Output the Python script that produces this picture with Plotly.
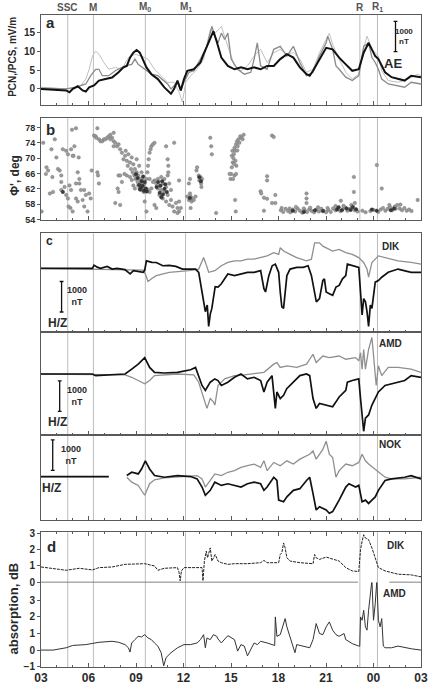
import plotly.graph_objects as go

# ---------------- data (time in hours UT from 03 of day 1, 27 = 03 next day) ----------------
events = ["SSC", "M", "M<sub>0</sub>", "M<sub>1</sub>", "R", "R<sub>1</sub>"]
event_hours = [4.69, 6.31, 9.59, 12.13, 23.14, 24.25]

hour_ticks = [3, 6, 9, 12, 15, 18, 21, 24, 27]
hour_labels = ["03", "06", "09", "12", "15", "18", "21", "00", "03"]

# panel a: AE (black) and PCN / PCS (grey), mV/m
ae = [(3.0, 0), (3.56, -0.2), (4.18, -0.4), (4.59, -0.4), (4.8, -0.9), (5.01, 0), (5.32, 0.7),
      (5.63, -0.4), (5.83, -0.7), (6.04, 0.4), (6.35, 0.9), (6.66, 2.2), (7.07, 2.6), (7.49, 3.0),
      (7.9, 4.4), (8.21, 5.7), (8.42, 6.1), (8.62, 8.3), (8.83, 9.6), (9.04, 10.3), (9.24, 9.6),
      (9.45, 7.4), (9.66, 5.7), (9.97, 3.9), (10.38, 2.6), (10.79, 0.4), (11.0, -0.4), (11.21, -1.3),
      (11.41, 0), (11.62, 2.2), (11.83, -0.4), (12.03, 2.6), (12.24, 4.8), (12.65, 5.2), (12.86, 6.1),
      (13.07, 7.0), (13.27, 9.2), (13.48, 11.3), (13.69, 13.1), (13.89, 15.3), (14.1, 12.5),
      (14.39, 8.3), (14.8, 6.1), (15.22, 5.2), (15.63, 5.7), (16.04, 5.2), (16.46, 5.7), (16.87, 5.2),
      (17.28, 6.1), (17.7, 6.1), (18.11, 7.9), (18.53, 9.2), (18.94, 8.3), (19.35, 5.7), (19.77, 3.9),
      (19.97, 3.5), (20.18, 4.8), (20.59, 7.9), (21.01, 10.9), (21.42, 10.5), (21.83, 8.3),
      (22.25, 6.5), (22.66, 4.8), (23.07, 5.2), (23.38, 9.6), (23.69, 12.2), (23.9, 10.5),
      (24.11, 8.7), (24.31, 7.9), (24.52, 6.1), (24.73, 4.4), (25.14, 3.1), (25.55, 2.6),
      (25.97, 2.2), (26.38, 3.5), (27.0, 3.1)]
pcn = [(3.0, 0.17), (4.59, 0), (5.21, 0.44), (5.83, 1.3), (6.14, 3.5), (6.45, 5.2), (6.66, 5.2),
       (6.87, 3.5), (7.28, 3.5), (7.69, 4.8), (8.31, 6.1), (8.73, 6.5), (8.93, 7.9), (9.14, 6.5),
       (9.55, 5.2), (9.97, 3.9), (10.38, 3.5), (10.79, 2.2), (11.0, 1.3), (11.21, 0), (11.41, 0.87),
       (11.62, 1.75), (11.83, -0.44), (12.03, 1.75), (12.34, 4.36), (12.65, 4.8), (13.07, 7.9),
       (13.48, 11.3), (13.79, 16.6), (13.98, 14.0), (14.18, 12.2), (14.39, 14.8), (14.6, 13.1),
       (14.8, 14.8), (15.01, 7.9), (15.42, 5.2), (15.84, 3.9), (16.25, 4.4), (16.46, 7.9),
       (16.66, 12.2), (16.87, 6.1), (17.28, 5.2), (17.7, 10.5), (18.11, 11.3), (18.53, 8.7),
       (18.94, 11.3), (19.35, 7.0), (19.77, 3.5), (20.18, 4.4), (20.59, 8.7), (21.01, 12.2),
       (21.11, 14.0), (21.42, 10.5), (21.63, 6.1), (21.83, 5.2), (22.25, 3.1), (22.66, 2.2),
       (23.07, 3.5), (23.38, 11.3), (23.69, 12.2), (23.9, 8.3), (24.11, 7.0), (24.31, 5.2),
       (24.52, 2.6), (24.93, 1.3), (25.55, 0.87), (25.97, 0.44), (26.38, 1.75), (27.0, 1.3)]
pcs = [(3.0, 0.44), (4.59, 0), (5.42, 0.44), (5.83, 2.6), (6.04, 5.2), (6.25, 8.7), (6.45, 10.0),
       (6.66, 9.2), (6.97, 7.0), (7.28, 5.2), (7.69, 5.7), (8.11, 5.2), (8.52, 8.3), (8.93, 9.2),
       (9.35, 8.7), (9.76, 7.9), (10.17, 5.2), (10.59, 3.5), (11.0, 1.75), (11.41, 1.75),
       (11.72, -0.87), (11.93, -3.5), (12.14, 1.75), (12.45, 3.5), (12.86, 5.2), (13.27, 7.9),
       (13.69, 15.7), (14.0, 14.8), (14.39, 16.6), (14.8, 11.3), (15.22, 6.1), (15.63, 4.8),
       (16.04, 6.1), (16.46, 8.7), (16.87, 10.5), (17.28, 7.0), (17.7, 9.6), (18.11, 10.5),
       (18.53, 9.2), (18.94, 9.6), (19.35, 7.9), (19.77, 4.4), (20.18, 5.2), (20.59, 9.6),
       (21.01, 13.1), (21.21, 14.8), (21.42, 11.8), (21.83, 7.9), (22.25, 4.4), (22.66, 2.6),
       (23.07, 3.9), (23.38, 10.9), (23.59, 14.0), (23.9, 10.5), (24.31, 8.7), (24.52, 4.8),
       (24.93, 2.2), (25.55, 1.75), (26.17, 2.6), (26.79, 3.9), (27.0, 3.5)]

# panel b: corrected geomagnetic latitude of aurora, deg
phi_grey = [
    (3.04, 56.1), (3.14, 74.0), (3.31, 65.9), (3.35, 67.6), (3.45, 66.8), (3.56, 60.8), (3.66, 72.3),
    (3.76, 61.2), (3.97, 70.2), (3.87, 74.9), (4.07, 67.2), (4.18, 66.8), (4.28, 63.8), (4.38, 72.3),
    (4.49, 62.5), (4.28, 61.7), (4.59, 71.9), (4.7, 71.0), (4.8, 62.9), (4.9, 61.7), (4.86, 57.0),
    (4.74, 57.4), (5.0, 56.1), (5.05, 70.6), (5.11, 73.1), (5.21, 77.8), (4.96, 77.4), (5.32, 66.3),
    (5.42, 63.4), (5.52, 61.7), (5.42, 64.6), (5.21, 63.4), (5.63, 59.1), (5.73, 61.7), (5.73, 57.4),
    (5.83, 60.4), (5.94, 56.1), (6.04, 60.8), (6.14, 59.5), (6.2, 66.8), (5.0, 70.6), (4.9, 72.3),
    (5.21, 59.5), (5.32, 58.7), (5.38, 70.2), (4.59, 60.4), (4.7, 59.5), (3.72, 65.1), (4.28, 65.5),
    (6.35, 75.9), (6.45, 75.7), (6.49, 75.3), (6.56, 77.8), (6.66, 74.9), (6.76, 74.4), (6.87, 74.4),
    (6.97, 74.9), (7.07, 74.9), (7.18, 75.3), (6.56, 66.3), (6.66, 63.4), (6.6, 65.5), (7.28, 75.7),
    (7.38, 76.1), (7.49, 75.3), (7.59, 76.6), (7.38, 74.9), (7.59, 74.4), (7.69, 74.0), (7.59, 73.1),
    (7.8, 73.1), (7.9, 73.6), (8.0, 72.3), (8.11, 71.4), (8.21, 69.7), (8.31, 70.6), (8.35, 71.9),
    (8.42, 69.3), (8.48, 68.0), (8.52, 71.0), (8.62, 68.9), (8.68, 67.2), (8.73, 70.2), (8.79, 66.3),
    (8.83, 68.4), (8.89, 65.5), (8.93, 67.2), (8.97, 64.6), (9.04, 69.7), (9.04, 66.3), (9.1, 63.8),
    (9.14, 65.5), (9.14, 62.9), (9.2, 68.0), (9.24, 64.6), (9.24, 62.1), (9.3, 63.4), (9.35, 66.3),
    (9.35, 61.7), (9.41, 64.6), (9.45, 62.5), (9.49, 61.2), (9.55, 63.4), (9.59, 61.7), (9.66, 64.6),
    (9.66, 62.1), (9.72, 66.3), (9.76, 68.0), (9.8, 69.7), (9.86, 71.4), (9.92, 72.3), (9.97, 73.1),
    (10.07, 73.6), (10.17, 74.0), (9.76, 61.7), (9.86, 61.2), (9.97, 62.1), (8.62, 65.1), (8.73, 64.3),
    (8.83, 62.9), (8.93, 62.1), (8.42, 65.5), (8.27, 65.9), (8.11, 63.8), (7.9, 65.5), (8.0, 65.5),
    (7.84, 62.1), (7.9, 61.2), (8.0, 57.8), (7.69, 58.3), (9.55, 58.7), (9.66, 56.1), (10.9, 73.1),
    (10.17, 64.2), (10.28, 63.4), (10.38, 64.6), (10.38, 62.1), (10.48, 62.9), (10.48, 60.4),
    (10.59, 65.1), (10.59, 61.7), (10.69, 63.4), (10.69, 59.5), (10.79, 64.6), (10.79, 61.2),
    (10.9, 62.5), (10.9, 58.7), (11.0, 65.5), (11.0, 60.4), (11.1, 63.4), (11.1, 57.8), (10.17, 57.8),
    (10.28, 57.0), (10.07, 63.8), (9.86, 64.6), (11.21, 61.7), (11.21, 59.1), (11.31, 57.4),
    (11.41, 56.1), (11.52, 58.3), (11.62, 57.0), (11.72, 58.7), (11.83, 57.0), (11.72, 64.2),
    (11.0, 69.7), (11.04, 68.0), (11.04, 66.3), (11.41, 74.0), (11.72, 56.1), (11.62, 55.7),
    (12.24, 60.0), (12.34, 59.1), (12.41, 60.8), (12.45, 60.0), (12.51, 58.7), (12.55, 59.5),
    (12.34, 63.4), (12.41, 64.6), (12.45, 57.0), (12.65, 59.1), (12.76, 60.0), (12.82, 66.8),
    (12.86, 67.6), (12.96, 65.5), (13.0, 64.2), (13.07, 65.1), (13.11, 63.4), (13.17, 64.6),
    (13.13, 62.5), (14.06, 55.7), (13.69, 75.3), (13.75, 73.1), (13.79, 71.0),
    (14.97, 64.6), (15.01, 65.9), (15.05, 67.6), (15.05, 70.6), (15.09, 71.9), (15.11, 68.9),
    (15.13, 64.6), (15.18, 71.0), (15.22, 72.7), (15.22, 65.5), (15.26, 71.9), (15.28, 69.3),
    (15.32, 73.6), (15.34, 68.0), (15.38, 74.4), (15.42, 73.1), (15.47, 74.9), (15.53, 74.0),
    (15.59, 75.7), (15.67, 75.3), (15.8, 76.1), (15.73, 74.9), (15.26, 59.1), (15.3, 56.1),
    (14.91, 65.9), (15.32, 65.9), (15.15, 70.0), (15.2, 68.5), (15.4, 72.0),
    (17.59, 75.9), (17.7, 75.5), (17.28, 65.3), (17.28, 64.2), (16.87, 61.4), (16.91, 60.8),
    (17.08, 59.7), (17.28, 59.4), (17.59, 58.3), (17.8, 60.4), (17.8, 58.3), (17.08, 56.3),
    (19.77, 60.8), (19.77, 59.5), (19.77, 58.3), (22.76, 65.1), (22.76, 61.2), (21.94, 58.9),
    (22.82, 58.3), (24.21, 68.2), (24.52, 62.1), (26.79, 59.1),
    (18.15, 56.4), (18.3, 56.0), (18.45, 56.8), (18.6, 56.2), (18.75, 55.9), (18.9, 56.6),
    (19.05, 56.1), (19.2, 56.9), (19.35, 56.3), (19.5, 55.8), (19.65, 56.5), (19.8, 56.0),
    (19.95, 56.7), (20.1, 56.2), (20.25, 55.9), (20.4, 56.6), (20.55, 56.1), (20.7, 56.8),
    (20.85, 56.3), (21.0, 55.9), (21.15, 56.5), (21.3, 56.0), (21.45, 56.9), (21.6, 56.4),
    (21.75, 57.1), (21.9, 56.2), (22.05, 56.7), (22.2, 57.2), (22.35, 56.3), (22.5, 56.8),
    (22.65, 57.0), (22.8, 56.4), (23.0, 56.1), (23.3, 56.3), (23.5, 55.9), (23.8, 56.2),
    (24.0, 56.5), (24.3, 56.0), (24.45, 56.6), (24.6, 57.0), (24.75, 56.3), (24.9, 56.8),
    (25.05, 57.2), (25.2, 56.5), (25.35, 57.4), (25.5, 57.8), (25.65, 56.9), (25.8, 56.4),
    (25.95, 57.0), (26.1, 56.3), (26.25, 56.6), (26.4, 56.2),
    (18.2, 57.0), (18.7, 56.9), (19.1, 57.3), (19.6, 56.9), (20.0, 57.1), (20.5, 57.2),
    (21.1, 57.0), (21.6, 57.5), (22.1, 57.6), (22.6, 57.8), (25.0, 57.8), (25.4, 56.8), (25.7, 57.9)]
phi_dark = [
    (9.2, 63.0), (9.3, 62.2), (9.35, 64.0), (9.42, 62.8), (9.5, 61.5), (9.55, 63.8), (9.62, 62.0),
    (9.68, 61.3), (9.1, 64.8), (9.0, 65.8), (9.25, 61.8), (9.45, 65.2), (10.3, 62.5), (10.4, 63.8),
    (10.5, 61.0), (10.55, 62.8), (10.65, 64.0), (10.7, 60.5), (10.8, 62.0), (10.85, 63.2),
    (10.95, 61.2), (10.6, 59.8), (4.38, 61.2), (13.0, 65.0), (13.1, 64.0), (12.4, 59.6),
    (21.7, 56.6), (21.8, 57.2), (22.0, 56.4), (22.3, 56.9), (22.55, 56.5), (22.7, 57.3),
    (22.9, 56.7), (23.9, 56.6), (24.2, 56.3), (18.9, 56.3), (19.6, 56.0), (20.3, 56.4),
    (20.8, 56.2), (25.1, 56.4), (25.3, 56.9)]

# panel c: magnetometer H (black) and Z (grey), nT relative to quiet level
dik_h = [(3.0, 0), (6.25, 0), (6.35, 107), (6.55, 40), (6.76, 0), (7.18, 65), (7.49, -22), (7.8, 0),
         (8.3, -40), (8.63, -183), (8.84, -75), (9.45, -129), (9.55, -60), (9.66, 247), (10.0, 200),
         (10.28, 193), (10.69, 86), (11.1, 100), (11.52, 65), (11.93, -22), (12.76, -22),
         (12.96, -129), (13.17, -774), (13.27, -1100), (13.38, -1419), (13.5, -1200), (13.59, -1902),
         (13.69, -1500), (13.79, -1312), (14.0, -600), (14.18, -613), (14.39, -505), (14.8, -183),
         (15.22, -237), (15.63, -183), (16.04, -129), (16.46, -129), (16.87, -75), (17.08, -667),
         (17.18, -774), (17.39, -237), (17.6, 86), (17.8, 140), (18.01, -129), (18.11, -774),
         (18.21, -1258), (18.32, -1312), (18.42, -774), (18.53, -237), (18.73, -22), (19.15, 32),
         (19.56, 32), (19.87, 86), (20.08, -237), (20.28, -774), (20.39, -1097), (20.59, -989),
         (20.8, -398), (20.9, -344), (21.01, -774), (21.21, -828), (21.42, -882), (21.63, -613),
         (21.83, -559), (22.04, -344), (22.25, -237), (22.35, 140), (22.66, 86), (23.07, 32),
         (23.18, -774), (23.28, -1527), (23.38, -989), (23.49, -1097), (23.59, -1419),
         (23.69, -1903), (23.8, -1204), (23.9, -1312), (24.11, -452), (24.31, -398), (24.52, -290),
         (24.93, -129), (25.55, -22), (26.38, -129), (27.0, -129)]
dik_z = [(3.0, 0), (9.45, -60), (9.6, -200), (9.76, -430), (10.0, -330), (10.28, -237), (11.1, -129),
         (12.34, -75), (12.96, -22), (13.1, 150), (13.27, 355), (13.45, 100), (13.59, -129),
         (13.98, -75), (14.39, 86), (14.8, 194), (15.22, 247), (15.63, 247), (16.04, 301),
         (16.46, 301), (16.87, 355), (17.28, 409), (17.7, 516), (18.01, 462), (18.11, 677),
         (18.32, 570), (18.73, 462), (19.15, 355), (19.77, 247), (20.08, 301), (20.28, 839),
         (20.59, 839), (20.8, 731), (21.01, 677), (21.42, 570), (21.83, 624), (22.25, 516),
         (22.66, 462), (23.07, 355), (23.38, 194), (23.59, -22), (23.69, -290), (23.8, -22),
         (23.9, 194), (24.31, 409), (24.73, 355), (25.55, 247), (26.38, 194), (27.0, 140)]
amd_h = [(3.0, 0), (6.25, 0), (6.45, -54), (7.69, -32), (8.31, 0), (8.73, 161), (9.14, 323),
         (9.55, 538), (9.86, 215), (10.17, 54), (10.79, 32), (11.62, 54), (12.45, 140), (12.76, 215),
         (12.96, -54), (13.17, -376), (13.38, -538), (13.69, -269), (13.98, -161), (14.18, -215),
         (14.39, -376), (14.8, -269), (15.22, -108), (15.63, 0), (16.04, -161), (16.46, -108),
         (16.87, -215), (17.08, -591), (17.28, -269), (17.59, -54), (17.8, -1129), (17.9, -591),
         (18.11, -806), (18.32, -699), (18.52, -484), (18.94, -269), (19.35, -54), (19.77, 0),
         (19.97, -54), (20.18, -806), (20.38, -1129), (20.59, -968), (21.01, -1021), (21.42, -1075),
         (21.63, -914), (21.83, -753), (22.25, -538), (22.35, -269), (22.66, -215), (23.07, -161),
         (23.18, -806), (23.28, -1344), (23.38, -1881), (23.49, -1451), (23.69, -1344),
         (23.9, -1021), (24.11, -806), (24.31, -591), (24.73, -376), (25.14, -323), (25.97, -215),
         (26.38, -54), (27.0, -108)]
amd_z = [(3.0, 0), (8.31, -32), (8.73, -108), (9.14, -215), (9.55, -323), (9.86, -215), (10.17, -54),
         (11.62, 0), (12.65, -32), (12.96, -269), (13.27, -806), (13.48, -1129), (13.69, -806),
         (13.89, -914), (13.98, -1021), (14.18, -376), (14.6, -161), (15.22, -54), (15.84, -32),
         (16.46, 0), (17.08, 54), (17.7, 323), (17.9, 376), (18.11, 215), (18.53, 269), (19.15, 215),
         (19.77, 323), (19.97, 484), (20.18, 645), (20.38, 376), (20.8, 591), (21.21, 538),
         (21.83, 591), (22.25, 484), (22.87, 538), (23.07, 430), (23.18, 699), (23.28, 161),
         (23.38, 806), (23.49, 161), (23.69, 806), (23.9, 1200), (24.07, 269), (24.17, -376),
         (24.31, 269), (24.52, -54), (24.93, 215), (25.55, 215), (26.38, 161), (27.0, 54)]
nok_h = [(3.0, 0), (7.28, 0), (7.8, None), (8.42, 32), (8.73, 140), (9.14, 86), (9.35, 247),
         (9.59, 516), (9.86, 247), (10.17, 32), (10.79, -22), (11.62, 32), (12.45, 0), (12.86, -75),
         (13.17, -344), (13.38, -613), (13.69, -452), (13.98, -183), (14.39, -290), (14.8, -237),
         (15.22, -290), (15.63, -344), (16.04, -237), (16.46, -183), (16.87, -237), (17.08, -452),
         (17.28, -344), (17.7, -22), (17.9, -129), (18.01, -774), (18.32, -828), (18.53, -667),
         (18.94, -452), (19.35, -398), (19.77, -129), (19.97, -22), (20.18, -559), (20.38, -1097),
         (20.59, -989), (21.01, -1097), (21.21, -1204), (21.42, -1150), (21.83, -774), (22.25, -344),
         (22.45, -237), (22.87, -344), (23.07, -290), (23.28, -828), (23.49, -774), (23.69, -882),
         (23.9, -774), (24.11, -667), (24.31, -452), (24.73, -129), (25.14, -75), (25.97, -22),
         (26.38, 32), (27.0, -75)]
nok_z = [(3.0, 0), (7.28, 0), (7.8, None), (8.42, -22), (8.73, -183), (9.14, -290), (9.55, -613),
         (9.86, -237), (10.17, -108), (10.79, -43), (12.45, 0), (12.86, 32), (13.17, -75),
         (13.38, -344), (13.69, -129), (13.98, 86), (14.39, 32), (14.8, 140), (15.22, 194),
         (15.63, 301), (16.04, 355), (16.46, 409), (16.87, 301), (17.08, 516), (17.28, 194),
         (17.7, 462), (18.11, 355), (18.53, 516), (18.94, 409), (19.35, 570), (19.97, 731),
         (20.18, 839), (20.38, 570), (20.8, 892), (21.01, 1161), (21.21, 731), (21.42, 624),
         (21.63, -22), (21.83, 194), (22.25, 409), (22.66, 355), (23.07, 462), (23.28, 731),
         (23.49, 516), (23.69, 409), (24.11, 247), (24.31, 140), (24.73, -22), (25.14, -75),
         (25.97, -75), (27.0, -22)]

# panel d: riometer absorption, dB
abs_dik = [(3.0, 0.94), (3.76, 0.84), (4.59, 0.74), (5.42, 0.86), (6.25, 0.76), (6.66, 0.9),
           (7.49, 0.94), (8.31, 1.1), (9.14, 1.1), (9.55, 1.14), (10.17, 1.0), (10.38, 0.74),
           (10.79, 0.86), (11.62, 0.9), (11.72, 0.6), (11.79, 0.1), (11.87, 0.7), (12.03, 0.9),
           (13.17, 0.9), (13.23, 0.1), (13.32, 1.3), (13.44, 1.9), (13.52, 1.5), (13.69, 2.1),
           (13.79, 1.3), (14.0, 1.7), (14.18, 1.3), (14.39, 1.2), (14.8, 1.1), (15.22, 1.14),
           (16.04, 1.14), (16.87, 1.2), (17.08, 1.34), (17.28, 1.2), (18.01, 1.2), (18.11, 1.7),
           (18.21, 1.8), (18.32, 2.4), (18.42, 2.1), (18.53, 1.5), (18.73, 1.3), (19.35, 1.2),
           (20.18, 1.14), (20.28, 1.7), (20.38, 1.5), (20.59, 1.4), (21.01, 1.54), (21.42, 1.4),
           (21.83, 1.3), (22.25, 0.9), (22.66, 0.7), (23.07, 0.66), (23.18, 2.0), (23.28, 2.5),
           (23.38, 2.9), (23.49, 2.7), (23.69, 2.6), (23.9, 2.1), (24.11, 1.5), (24.31, 0.9),
           (24.73, 0.7), (25.14, 0.6), (25.55, 0.5), (26.38, 0.46), (27.0, 0.34)]
abs_amd = [(3.0, 0), (3.76, 0), (4.59, 0.14), (5.0, 0.28), (5.83, 0.33), (6.66, 0.47), (7.49, 0.53),
           (7.9, 0.47), (8.31, 0.33), (8.52, 0.14), (8.62, -0.12), (8.73, 0.43), (8.93, 0.63),
           (9.14, 0.83), (9.35, 0.79), (9.55, 0.93), (9.76, 0.73), (9.97, 0.63), (10.17, 0.43),
           (10.38, 0.24), (10.59, -0.16), (10.69, -0.75), (10.75, -0.95), (10.9, -0.45),
           (11.21, -0.16), (11.62, 0.14), (12.03, 0.33), (12.45, 0.33), (12.86, 0.43), (13.07, 0.63),
           (13.27, 0.93), (13.38, 0.14), (13.48, 0.73), (13.69, 0.63), (13.89, 0.93), (14.1, 0.83),
           (14.18, 0.67), (14.39, 0.43), (14.8, 0.87), (15.22, 0.63), (15.42, -0.06), (15.63, 0.33),
           (15.84, 0.24), (16.04, -0.35), (16.25, 0.04), (16.46, 0.43), (16.66, 0.33), (16.87, 0.53),
           (17.28, 0.43), (17.7, 0.28), (17.76, 0.28), (17.8, 2.0), (17.9, 0.83), (18.11, 0.93),
           (18.32, 1.6), (18.42, 1.9), (18.53, 1.4), (18.73, 0.83), (18.94, 0.24), (19.04, -0.16),
           (19.15, 0.33), (19.56, 0.24), (19.97, 0.14), (20.18, 0.63), (20.38, 1.6), (20.59, 1.0),
           (20.8, 0.93), (21.01, 1.4), (21.21, 1.7), (21.42, 1.2), (21.63, 0.93), (21.83, 0.83),
           (22.14, 1.0), (22.25, 0.63), (22.66, 0.39), (23.07, 0.24), (23.13, 0.24), (23.18, 2.0),
           (23.28, 1.8), (23.38, 2.4), (23.49, 1.4), (23.59, 1.2), (23.69, 2.4), (23.9, 4.2),
           (24.0, 1.8), (24.11, 2.8), (24.21, 4.2), (24.31, 1.8), (24.42, 1.4), (24.52, 1.9),
           (24.62, 0.24), (24.73, 0.14), (25.14, 0.14), (25.55, 0.24), (25.97, 0.14), (26.38, 0.08),
           (27.0, 0)]

# ---------------- layout helpers ----------------
FONT = "Liberation Sans, Arial, sans-serif"
TXT = "#2a2a2a"
FRAME = "#5a5a5a"
EVENT = "#bcbcbc"
W, H = 438, 695
L, R, T, B = 41, 10, 15, 17
PW, PH = W - L - R, H - T - B


def px(x):
    return (x - L) / PW


def py(y):
    return (H - B - y) / PH


def split(pairs):
    return [p[0] for p in pairs], [p[1] for p in pairs]


# pixel extents (top, bottom) of each panel row
rows = [(15, 107), (120, 223), (237, 337), (337, 442), (442, 529), (541, 592), (592, 678)]
yranges = [[-4.4, 19.6], [54, 80.4], [-2075, 1150], [-2000, 1390], [-1440, 1365],
           [0, 3.05], [-1.02, 4.08]]

fig = go.Figure()


def line(pairs, row, color, width, dash="solid"):
    x, y = split(pairs)
    fig.add_trace(go.Scatter(x=x, y=y, mode="lines", xaxis=f"x{row}", yaxis=f"y{row}",
                             line=dict(color=color, width=width, dash=dash),
                             connectgaps=False, showlegend=False, hoverinfo="skip"))


line(pcs, 1, "#c0c0c0", 1.0)
line(pcn, 1, "#8a8a8a", 1.3)
line(ae, 1, "#111111", 2.0)

for pts, col, edge in [(phi_grey, "#9a9a9a", "#707070"), (phi_dark, "#3a3a3a", "#222222")]:
    x, y = split(pts)
    fig.add_trace(go.Scatter(x=x, y=y, mode="markers", xaxis="x2", yaxis="y2", showlegend=False,
                             marker=dict(size=3.5, color=col, line=dict(color=edge, width=0.4)),
                             hoverinfo="skip"))

line(dik_z, 3, "#8f8f8f", 1.3)
line(dik_h, 3, "#111111", 1.7)
line(amd_z, 4, "#8f8f8f", 1.3)
line(amd_h, 4, "#111111", 1.7)
line(nok_z, 5, "#8f8f8f", 1.3)
line(nok_h, 5, "#111111", 1.7)

line(abs_dik, 6, "#222222", 1.0, dash="3px,1px")
line(abs_amd, 7, "#333333", 1.0)

layout = dict(width=W, height=H, margin=dict(l=L, r=R, t=T, b=B), paper_bgcolor="white",
              plot_bgcolor="white", font=dict(family=FONT, color=TXT), showlegend=False)

for i, (top, bot) in enumerate(rows, start=1):
    last = i == 7
    xa = dict(range=[3, 27], domain=[0, 1], anchor=f"y{i}", showgrid=False, zeroline=False,
              showline=True, linecolor=FRAME, linewidth=1, mirror=not last and i != 6,
              ticks="inside", ticklen=4, tickcolor=FRAME, tickmode="array", tickvals=hour_ticks,
              ticktext=hour_labels, showticklabels=last, ticklabeloverflow="allow",
              tickfont=dict(size=12, family=FONT, color=TXT, weight="bold"),
              minor=dict(ticks="inside", ticklen=2, tickcolor=FRAME, tickmode="linear",
                         tick0=3, dtick=1))
    if i == 6:
        xa.update(side="top")
    ya = dict(range=yranges[i - 1], domain=[py(bot), py(top)], anchor=f"x{i}", showgrid=False,
              zeroline=False, showline=True, linecolor=FRAME, linewidth=1, mirror=True,
              ticks="outside", ticklen=3, tickcolor=FRAME,
              tickfont=dict(size=10, family=FONT, color=TXT, weight="bold"))
    if i in (3, 4, 5):
        ya.update(showticklabels=False, ticks="")
    layout[f"xaxis{i}"] = xa
    layout[f"yaxis{i}"] = ya

layout["yaxis1"].update(tickvals=[0, 5, 10, 15])
layout["yaxis2"].update(tickvals=[54, 58, 62, 66, 70, 74, 78], tickfont=dict(size=9, family=FONT,
                                                                            color=TXT, weight="bold"))
layout["yaxis6"].update(tickvals=[0, 1, 2, 3])
layout["yaxis7"].update(tickvals=[-1, 0, 1, 2, 3])
fig.update_layout(**layout)

# event lines through every panel
for h in event_hours:
    for top, bot in rows:
        fig.add_shape(type="line", xref="x", yref="paper", x0=h, x1=h, y0=py(bot), y1=py(top),
                      line=dict(color=EVENT, width=1), layer="below")

# separator between the two absorption panels (interrupted near midnight)
for x0, x1 in [(3, 23.03), (25.0, 27)]:
    fig.add_shape(type="line", xref="x6", yref="y6", x0=x0, x1=x1, y0=0, y1=0,
                  line=dict(color=FRAME, width=1.2))


def scale_bar(xref, yref, x, y0, y1, cap):
    fig.add_shape(type="line", xref=xref, yref=yref, x0=x, x1=x, y0=y0, y1=y1,
                  line=dict(color="#111111", width=1.3))
    for y in (y0, y1):
        fig.add_shape(type="line", xref=xref, yref=yref, x0=x - cap, x1=x + cap, y0=y, y1=y,
                      line=dict(color="#111111", width=1.3))


scale_bar("x", "y", 25.39, 9.9, 17.9, 0.12)
scale_bar("x3", "y3", 4.30, -430, -1430, 0.12)
scale_bar("x4", "y4", 4.18, -226, -1226, 0.12)
scale_bar("x5", "y5", 3.74, 1200, 200, 0.12)


def label(text, x, y, size=10, anchor="center", angle=0, color=TXT):
    fig.add_annotation(text=text, xref="paper", yref="paper", x=px(x), y=py(y), showarrow=False,
                       xanchor=anchor, yanchor="middle", textangle=angle,
                       font=dict(size=size, family=FONT, color=color, weight="bold"))


for name, h in zip(events, event_hours):
    label(name, L + (h - 3) / 24 * PW, 7, size=10, color="#555555")

label("a", 44, 23, size=15, anchor="left")
label("b", 44, 131, size=15, anchor="left")
label("c", 44, 245, size=12, anchor="left")
label("d", 45, 555, size=15, anchor="left")

label("PCN,/PCS, mV/m", 12, 58, size=10, angle=-90)
label("Φ', deg", 15, 178, size=12, angle=-90)
label("absorption, dB", 14, 618, size=13, angle=-90)

label("1000<br>nT", 411, 37, size=8)
label("AE", 399, 64, size=13)
label("DIK", 397, 250, size=10)
label("AMD", 397, 349, size=10)
label("NOK", 397, 452, size=10)
label("DIK", 403, 554, size=10)
label("AMD", 401, 603, size=10)

label("1000<br>nT", 78, 301, size=9)
label("H/Z", 58, 328, size=12)
label("1000<br>nT", 78, 402, size=9)
label("H/Z", 58, 429, size=12)
label("1000<br>nT", 72, 462, size=9)
label("H/Z", 52, 496, size=12)

# the page body has a default 8px margin; remove it so the figure fills the window
fig.write_html("out.html", config={"displayModeBar": False},
               post_script="document.body.style.margin='0';")
